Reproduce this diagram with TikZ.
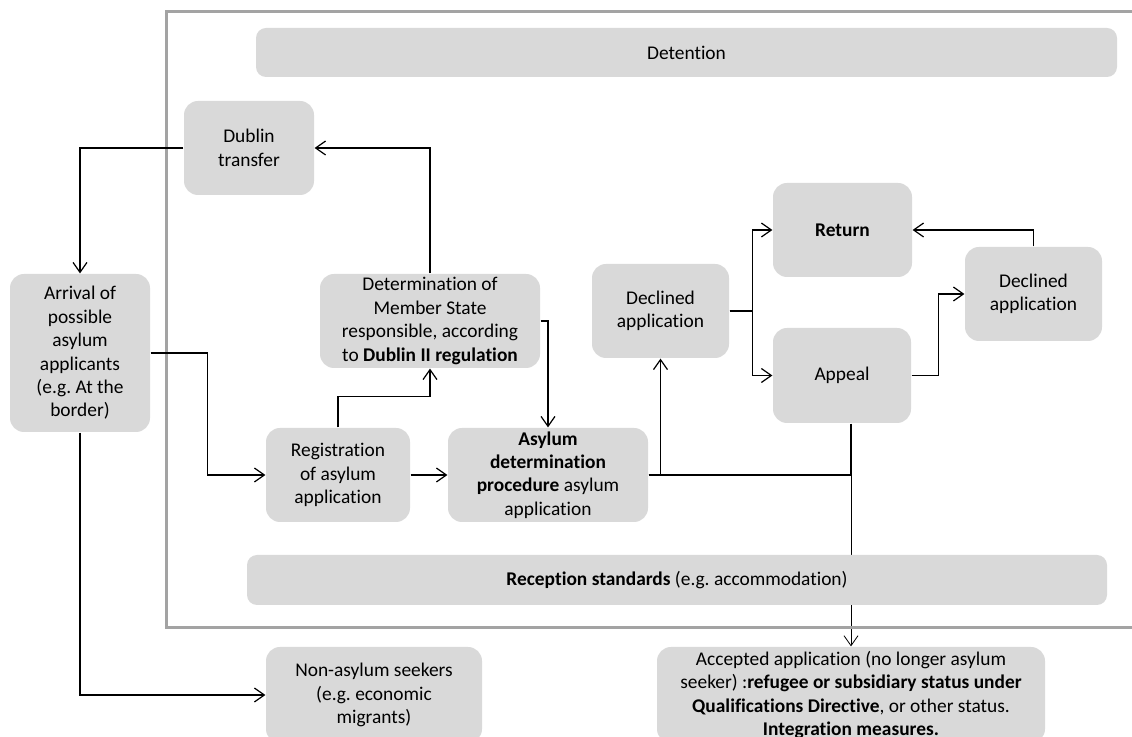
\documentclass[tikz,border=0pt]{standalone}
\usepackage{xcolor}
\usepackage{fontspec}
\setmainfont{Carlito}[Ligatures=NoCommon]
\frenchspacing
\usepackage{tikz}
\usetikzlibrary{arrows.meta,backgrounds}

\definecolor{boxgray}{HTML}{D9D9D9}
\definecolor{framegray}{HTML}{A3A3A3}

\begin{document}
\begin{tikzpicture}[x=0.5pt, y=-0.5pt, line width=0.6pt,
  >={Straight Barb[length=5pt,width=7pt]},
  box/.style={fill=boxgray, rounded corners=7pt, align=center, inner sep=0pt, font=\fontsize{9.7}{11.7}\selectfont},
  bar/.style={box, rounded corners=5pt}]
\useasboundingbox (0,0) rectangle (1132,737);
\clip (0,0) rectangle (1132,737);

\draw[framegray, line width=1.5pt] (166,12) rectangle (1150,628);

\node[bar, minimum width=430.5pt, minimum height=24.5pt] (detention) at (686.5,52.5) {Detention};
\node[bar, minimum width=430pt, minimum height=25pt] (reception) at (677,580) {\textbf{Reception standards} (e.g. accommodation)};

\node[box, minimum width=70pt, minimum height=79pt] (arrival) at (80,353) {Arrival of\\possible\\asylum\\applicants\\(e.g. At the\\border)};
\node[box, minimum width=65pt, minimum height=47pt] (dublin) at (249,148) {Dublin\\transfer};
\node[box, minimum width=110pt, minimum height=47pt] (memberstate) at (430,321) {Determination of\\Member State\\responsible, according\\to \textbf{Dublin II regulation}};
\node[box, minimum width=72pt, minimum height=47pt] (registration) at (338,475) {Registration\\of asylum\\application};
\node[box, minimum width=100pt, minimum height=47pt] (procedure) at (548,475) {\textbf{Asylum}\\\textbf{determination}\\\textbf{procedure} asylum\\application};
\node[box, minimum width=68.5pt, minimum height=47pt] (declined) at (660.5,311) {Declined\\application};
\node[box, minimum width=69.5pt, minimum height=47pt] (return) at (842.5,230) {\textbf{Return}};
\node[box, minimum width=69pt, minimum height=47.5pt] (appeal) at (842,375.5) {Appeal};
\node[box, minimum width=68.5pt, minimum height=47pt] (declinedb) at (1033.5,294) {Declined\\application};
\node[box, minimum width=108pt, minimum height=48pt] (nonasylum) at (374,695) {Non-asylum seekers\\(e.g. economic\\migrants)};
\node[box, minimum width=194pt, minimum height=48pt] (accepted) at (851,695) {Accepted application (no longer asylum\\seeker) :\textbf{refugee or subsidiary status under}\\\textbf{Qualifications Directive}, or other status.\\\textbf{Integration measures.}};

\draw[->] (dublin.west) -| (arrival.north);
\draw[->] (memberstate.north) |- (dublin.east);
\draw[->] (arrival.east) -- ++(57,0) |- (registration.west);
\draw[->] (arrival.south) |- (nonasylum.west);

\draw[->] (registration) -- (procedure);
\draw[->] (registration.north) -- ++(0,-31) -| (memberstate.south);
\draw[->] (memberstate.east) -| (procedure.north);

\coordinate (split) at (851,475);
\draw[->] (procedure.east) -| (declined.south);
\draw (procedure.east) -- (split);
\draw[line width=1.2pt] (split |- appeal.south) -- (split);
\begin{scope}[on background layer]
\draw[->] (split) -- (accepted.north);
\end{scope}

\draw[->] (declined.east) -- ++(23,0) |- (return.west);
\draw[->] (declined.east) -- ++(23,0) |- (appeal.west);
\draw[->] (appeal.east) -- ++(27,0) |- (declinedb.west);
\draw[->] (declinedb.north) |- (return.east);
\end{tikzpicture}
\end{document}
